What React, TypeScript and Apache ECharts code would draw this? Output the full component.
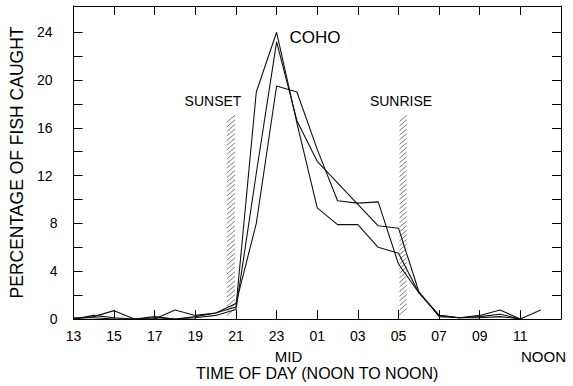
import React, { useEffect, useRef } from 'react';
import * as echarts from 'echarts';

// Hours of day, noon to noon (index 0 = 13:00)
const HOURS = ['13','14','15','16','17','18','19','20','21','22','23','00','01','02','03','04','05','06','07','08','09','10','11','12'];
// Percentage of fish caught per hour, three samples
const SERIES_A = [0, 0.2, 0.7, 0, 0, 0.75, 0.3, 0.5, 1.0, 19.0, 24.0, 16.4, 9.3, 7.9, 7.9, 6.0, 5.5, 2.2, 0.3, 0.1, 0.3, 0.75, 0, 0.75];
const SERIES_B = [0.1, 0.1, 0, 0, 0.1, 0, 0.2, 0.5, 1.3, 8.0, 19.5, 19.0, 14.2, 9.9, 9.7, 9.8, 4.6, 2.2, 0.3, 0.1, 0.1, 0.2, 0, null];
const SERIES_C = [0, 0.3, 0.1, 0, 0.2, 0, 0.1, 0.3, 0.8, 12.2, 23.2, 16.6, 13.2, 11.4, 9.6, 7.8, 7.6, 2.3, 0.2, 0.1, 0.2, 0.4, 0, null];
// Sunset / sunrise bands (clock hours, sunrise on next day => +24)
const SUNSET_BAND = [20.5, 21.0];
const SUNRISE_BAND = [29.0, 29.45];
const HATCH_TOP = 17.05;
const Y_TICKS = [0, 2, 4, 6, 8, 10, 12, 14, 16, 18, 20, 22, 24];
const Y_LABELS = [0, 4, 8, 12, 16, 20, 24];
const START_HOUR = 13;

const FONT = '"Liberation Sans", Arial, Helvetica, sans-serif';

export default function App() {
  const ref = useRef<HTMLDivElement>(null);
  useEffect(() => {
    if (!ref.current) return;
    const chart = echarts.init(ref.current, null, { renderer: 'svg' });
    const toData = (arr: (number | null)[]) =>
      arr.map((v, i) => [i, v]).filter((p) => p[1] !== null);
    const lineSeries = [SERIES_A, SERIES_B, SERIES_C].map((s) => ({
      type: 'line',
      data: toData(s),
      symbol: 'none',
      lineStyle: { color: '#111', width: 1.1 },
      silent: true,
      z: 3,
    }));
    const axisLineCommon = { show: true, onZero: false, lineStyle: { color: '#000', width: 1 } };
    const tickCommon = { show: true, inside: true, length: 9, lineStyle: { color: '#000', width: 1 } };
    const option: any = {
      animation: false,
      backgroundColor: '#fff',
      grid: { left: 68, right: 12, top: 6, bottom: 67, containLabel: false },
      xAxis: [
        {
          type: 'value', min: 0, max: 24, interval: 2, position: 'bottom',
          axisLine: axisLineCommon,
          axisTick: tickCommon,
          splitLine: { show: false },
          axisLabel: {
            margin: 10, fontSize: 14, color: '#000', fontFamily: FONT,
            formatter: (v: number) => (v < 24 ? HOURS[v] : ''),
          },
          name: 'TIME OF DAY (NOON TO NOON)', nameLocation: 'middle', nameGap: 46,
          nameTextStyle: { fontSize: 16, color: '#000', fontFamily: FONT },
        },
        {
          type: 'value', min: 0, max: 24, interval: 2, position: 'top',
          axisLine: axisLineCommon,
          axisTick: tickCommon,
          splitLine: { show: false },
          axisLabel: { show: false },
        },
      ],
      yAxis: [
        {
          type: 'value', min: 0, max: 26.2, interval: 2, position: 'left',
          axisLine: axisLineCommon,
          axisTick: { ...tickCommon, customValues: Y_TICKS },
          splitLine: { show: false },
          axisLabel: {
            margin: 16, fontSize: 14, color: '#000', fontFamily: FONT,
            customValues: Y_LABELS,
            formatter: (v: number) =>
              Y_LABELS.indexOf(v) >= 0 ? (v >= 10 ? `{w|${v}}` : `${v}`) : '',
            rich: { w: { padding: [0, 5, 0, 0], fontSize: 14, color: '#000', fontFamily: FONT } },
          },
          name: 'PERCENTAGE OF FISH CAUGHT', nameLocation: 'middle', nameGap: 38,
          nameTextStyle: { fontSize: 17.5, color: '#000', fontFamily: FONT },
        },
        {
          type: 'value', min: 0, max: 26.2, interval: 2, position: 'right',
          axisLine: axisLineCommon,
          axisTick: { ...tickCommon, customValues: Y_TICKS },
          splitLine: { show: false },
          axisLabel: { show: false },
        },
      ],
      series: [
        ...lineSeries,
        {
          type: 'custom',
          xAxisIndex: 0,
          yAxisIndex: 0,
          silent: true,
          z: 2,
          data: [SUNSET_BAND, SUNRISE_BAND].map((b) => [b[0] - START_HOUR, b[1] - START_HOUR, HATCH_TOP]),
          renderItem: (params: any, api: any) => {
            const a = api.coord([api.value(0), api.value(2)]);
            const b = api.coord([api.value(1), 0]);
            const x0 = a[0] + 1, x1 = b[0] - 1, yTop = a[1], yBot = b[1];
            const rise = (x1 - x0) * 0.85;
            const children: any[] = [];
            for (let y = yTop + rise; y <= yBot + 0.01; y += 4.6) {
              children.push({
                type: 'line',
                shape: { x1: x0, y1: y, x2: x1, y2: y - rise },
                style: { stroke: '#555', lineWidth: 0.8 },
              });
            }
            return { type: 'group', children };
          },
        },
      ],
      graphic: [
        { type: 'text', x: 315, y: 37.5, style: { text: 'COHO', fill: '#000', font: `17px ${FONT}`, align: 'center', verticalAlign: 'middle' } },
        { type: 'text', x: 213, y: 101, style: { text: 'SUNSET', fill: '#000', font: `14px ${FONT}`, align: 'center', verticalAlign: 'middle' } },
        { type: 'text', x: 401, y: 101, style: { text: 'SUNRISE', fill: '#000', font: `14px ${FONT}`, align: 'center', verticalAlign: 'middle' } },
        { type: 'text', x: 288.5, y: 356, style: { text: 'MID', fill: '#000', font: `15px ${FONT}`, align: 'center', verticalAlign: 'middle' } },
        { type: 'text', x: 543.5, y: 356, style: { text: 'NOON', fill: '#000', font: `15px ${FONT}`, align: 'center', verticalAlign: 'middle' } },
      ],
    };
    chart.setOption(option);
    return () => chart.dispose();
  }, []);
  return (
    <div
      ref={ref}
      style={{ position: 'fixed', left: 0, top: 0, width: 573, height: 386, background: '#fff' }}
    />
  );
}
